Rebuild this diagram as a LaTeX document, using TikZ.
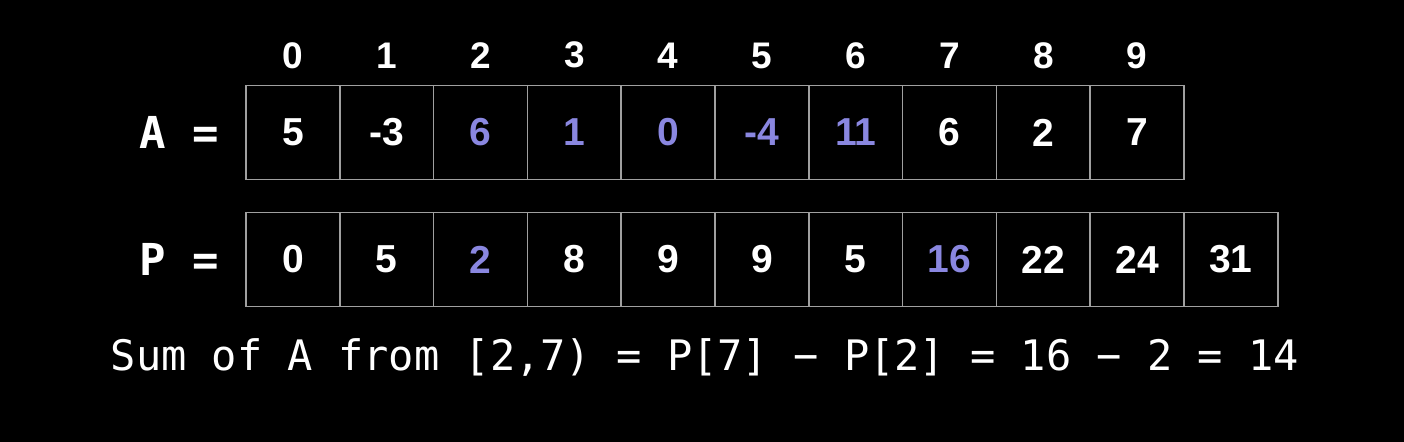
\documentclass[tikz,border=0pt]{standalone}
\usepackage{fontspec}
\setmainfont{Liberation Sans}
\setmonofont{DejaVu Sans Mono}
\usetikzlibrary{positioning}

\definecolor{hlpurple}{HTML}{8A87E0}
\definecolor{gridgray}{HTML}{A0A0A0}

\begin{document}
\begin{tikzpicture}[x=0.5pt, y=-0.5pt,
  cell/.style={draw=gridgray, line width=0.8pt, minimum size=46.9pt, inner sep=0pt,
    font=\fontsize{19.5}{20}\selectfont\bfseries},
  idx/.style={text=white, inner sep=0pt, font=\fontsize{18.5}{19}\selectfont\bfseries},
  lhs/.style={text=white, inner sep=0pt, font=\fontsize{22}{23}\selectfont\ttfamily\bfseries},
  sumtext/.style={text=white, inner sep=0pt, font=\fontsize{21}{22}\selectfont\ttfamily}]

  % --- 1. background ---
  \fill[black] (0,0) rectangle (1404,442);

  % --- 2. array A with indices ---
  \foreach \v/\c [count=\i from 0] in {5/white,-3/white,6/hlpurple,1/hlpurple,0/hlpurple,
      -4/hlpurple,11/hlpurple,6/white,2/white,7/white} {
    \node[cell, text=\c] (a\i) at ({292.9+93.8*\i},132.5) {\v};
    \node[idx, above=8pt of a\i] (i\i) {\i};
  }
  \node[lhs, left=13pt of a0] (alhs) {A =};

  % --- 3. prefix sums P ---
  \foreach \v/\c [count=\i from 0] in {0/white,5/white,2/hlpurple,8/white,9/white,9/white,
      5/white,16/hlpurple,22/white,24/white,31/white} {
    \node[cell, text=\c] (p\i) at ({292.9+93.8*\i},259.5) {\v};
  }
  \node[lhs, left=13pt of p0] (plhs) {P =};

  % --- 4. range sum ---
  \node[sumtext] (sum) at (705,357) {Sum of A from [2,7) = P[7] − P[2] = 16 − 2 = 14};

\end{tikzpicture}
\end{document}
